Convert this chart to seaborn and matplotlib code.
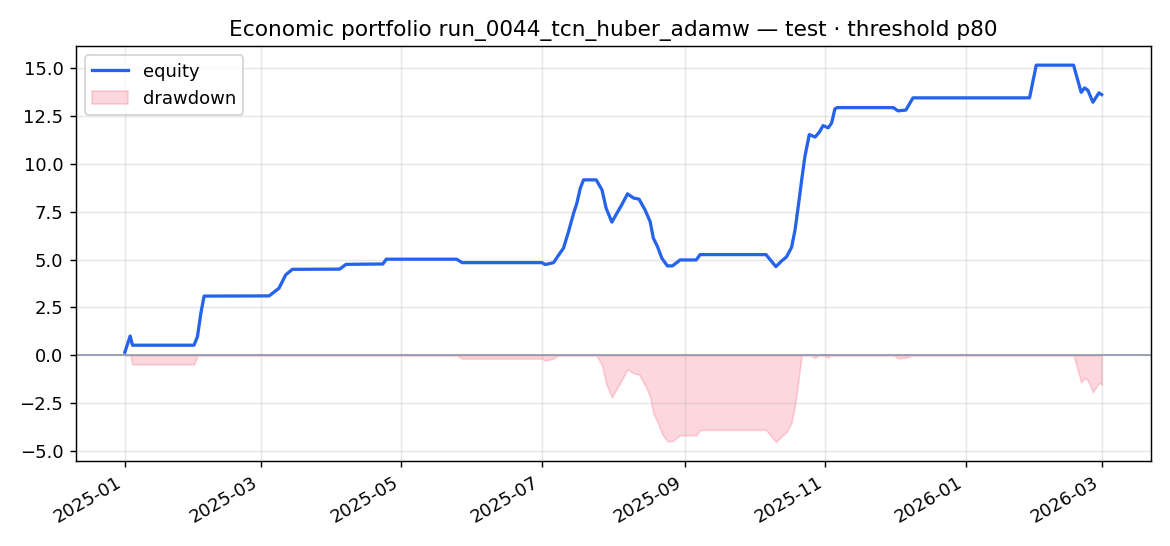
import pandas as pd
import matplotlib
matplotlib.use('Agg')
import matplotlib.pyplot as plt
import matplotlib.dates as mdates
import seaborn as sns

start = '2025-01-01'
days = [0, 2.3, 3.3, 30, 31.5, 33, 34.4, 62.6, 66.9, 69.8, 72.7, 93.2, 96,
        112, 113.5, 144, 146.4, 181, 182.5, 186.1, 188.3, 190.4, 192.6, 194.8,
        196.2, 197.7, 199.1, 204.6, 207.1, 208.9, 211.4, 213.6, 215.7, 218.2,
        220.8, 223.2, 225.8, 228, 229.4, 231.2, 233.1, 235.5, 237.7, 241, 248,
        249.7, 278.3, 282.6, 285.1, 287.2, 289.4, 290.9, 292.3, 293.8, 295.2,
        297.1, 299.6, 301.4, 303.1, 305.3, 306.8, 308.2, 309.2, 333.6, 335.6,
        339, 342.1, 392.7, 395.6, 411.8, 415.1, 416.6, 418, 420.2, 422.8, 424]
equity = [0.15, 1.0, 0.52, 0.52, 0.96, 2.2, 3.09, 3.1, 3.5, 4.2, 4.49, 4.5, 4.75,
          4.77, 5.02, 5.02, 4.84, 4.84, 4.74, 4.84, 5.24, 5.6, 6.47, 7.43,
          7.95, 8.74, 9.17, 9.17, 8.65, 7.69, 6.96, 7.43, 7.87, 8.44,
          8.22, 8.16, 7.6, 6.99, 6.12, 5.68, 5.07, 4.67, 4.67, 4.98, 4.98,
          5.26, 5.26, 4.63, 4.93, 5.14, 5.64, 6.55, 7.78, 9.18, 10.4,
          11.54, 11.41, 11.66, 12.01, 11.89, 12.15, 12.88, 12.95, 12.95, 12.78,
          12.82, 13.46, 13.46, 15.17, 15.17, 13.75, 13.98, 13.86, 13.23, 13.72, 13.63]

df = pd.DataFrame({'date': pd.Timestamp(start) + pd.to_timedelta(days, unit='D'),
                   'equity': equity})
# drawdown = equity - máximo acumulado
df['drawdown'] = df['equity'] - df['equity'].cummax()

fig, ax = plt.subplots(figsize=(9, 4.2), dpi=130)

sns.lineplot(data=df, x='date', y='equity', ax=ax, color='#2563eb', linewidth=1.8, label='equity')
ax.fill_between(df['date'], df['drawdown'], 0, color='#f43f5e', alpha=0.2, label='drawdown')
ax.axhline(0, color='#8a94a6', linewidth=0.9)

ax.set_title("Economic portfolio run_0044_tcn_huber_adamw — test · threshold p80")
ax.set_xlabel("")
ax.set_ylabel("")
ax.grid(True, alpha=0.3)
ax.xaxis.set_major_locator(mdates.MonthLocator(bymonth=[1, 3, 5, 7, 9, 11]))
ax.xaxis.set_major_formatter(mdates.DateFormatter('%Y-%m'))
ax.legend(loc='upper left')
fig.autofmt_xdate()

plt.tight_layout()
plt.savefig('out.png', dpi=130)
